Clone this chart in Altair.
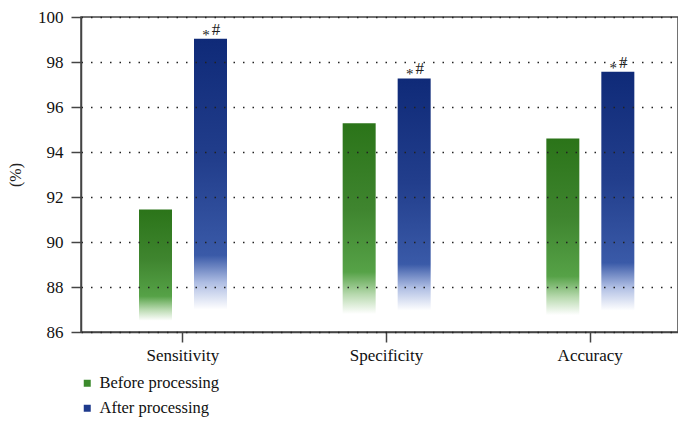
import altair as alt
import pandas as pd

categories = ["Sensitivity", "Specificity", "Accuracy"]
series = ["Before processing", "After processing"]
before_values = [91.45, 95.28, 94.6]
after_values = [99.03, 97.27, 97.57]
# visible lower end of each faded bar
before_floor = [86.5, 86.8, 86.75]
after_floor = [87.0, 86.95, 86.95]

rows = []
for i, c in enumerate(categories):
    rows.append({"category": c, "series": series[0], "value": before_values[i], "floor": before_floor[i]})
    rows.append({"category": c, "series": series[1], "value": after_values[i], "floor": after_floor[i]})
df = pd.DataFrame(rows)

FONT = "Liberation Serif"
green_solid = "#3b8a2c"
blue_solid = "#1e3a8c"

green_grad = alt.Gradient(
    gradient="linear", x1=0, x2=0, y1=0, y2=1,
    stops=[
        alt.GradientStop(offset=0, color="#2b7419"),
        alt.GradientStop(offset=0.45, color="#3f852f"),
        alt.GradientStop(offset=0.78, color="#56a247"),
        alt.GradientStop(offset=0.9, color="#b9dab0"),
        alt.GradientStop(offset=1, color="#ffffff"),
    ],
)
blue_grad = alt.Gradient(
    gradient="linear", x1=0, x2=0, y1=0, y2=1,
    stops=[
        alt.GradientStop(offset=0, color="#0f2a78"),
        alt.GradientStop(offset=0.45, color="#223e8c"),
        alt.GradientStop(offset=0.8, color="#3a5aa8"),
        alt.GradientStop(offset=0.9, color="#aebde3"),
        alt.GradientStop(offset=1, color="#ffffff"),
    ],
)

x_enc = alt.X(
    "category:N", sort=categories, title=None,
    scale=alt.Scale(paddingInner=0, paddingOuter=0, range=[0, 611]),
    axis=alt.Axis(labelAngle=0, labelFont=FONT, labelFontSize=17, labelColor="#111",
                  labelPadding=5, tickSize=10, tickWidth=1.5, tickColor="#444",
                  domainColor="#444", domainWidth=1.5, grid=False),
)
xo_enc = alt.XOffset("series:N", sort=series,
                     scale=alt.Scale(range=[58, 146], paddingInner=0.4, paddingOuter=0))
y_enc = alt.Y(
    "value:Q", title="(%)",
    scale=alt.Scale(domain=[86, 100], nice=False, zero=False),
    axis=alt.Axis(values=[86, 88, 90, 92, 94, 96, 98, 100], format="d",
                  labelFont=FONT, labelFontSize=17, labelColor="#111", labelPadding=8,
                  tickSize=10, tickWidth=1.5, tickColor="#444",
                  domainColor="#444", domainWidth=1.5,
                  grid=True, gridColor="#222", gridDash=[1.5, 8], gridWidth=1.3,
                  titleFont=FONT, titleFontSize=16, titleFontWeight="normal",
                  titleColor="#222", titlePadding=14, zindex=1),
)

base = alt.Chart(df).encode(x=x_enc, xOffset=xo_enc, y=y_enc)

legend_layer = base.mark_bar().encode(
    y2="value:Q",
    color=alt.Color("series:N", sort=series,
                    scale=alt.Scale(domain=series, range=[green_solid, blue_solid]),
                    legend=alt.Legend(title=None, orient="none", legendX=-2, legendY=358,
                                      direction="vertical", symbolType="square",
                                      symbolSize=49, symbolStrokeWidth=0,
                                      labelFont=FONT, labelFontSize=16.5, labelColor="#111",
                                      labelOffset=4, rowPadding=8)),
)

green_layer = base.transform_filter(alt.datum.series == series[0]).mark_bar(
    fill=green_grad).encode(y2="floor:Q")
blue_layer = base.transform_filter(alt.datum.series == series[1]).mark_bar(
    fill=blue_grad).encode(y2="floor:Q")

star = base.transform_filter(alt.datum.series == series[1]).mark_text(
    text="*", font=FONT, fontSize=15, baseline="alphabetic", dx=-4.5, dy=1, color="#222")
hashm = base.transform_filter(alt.datum.series == series[1]).mark_text(
    text="#", font=FONT, fontSize=17, baseline="alphabetic", dx=5.5, dy=-4, color="#222")

chart = alt.layer(legend_layer, green_layer, blue_layer, star, hashm).properties(
    width=597, height=315,
    autosize=alt.AutoSizeParams(type="none"),
    padding={"left": 73, "top": 9, "right": 0, "bottom": 85},
).configure_view(stroke="#444", strokeWidth=1.5)

chart.save("out.html", embed_options={"renderer": "svg", "actions": False})
